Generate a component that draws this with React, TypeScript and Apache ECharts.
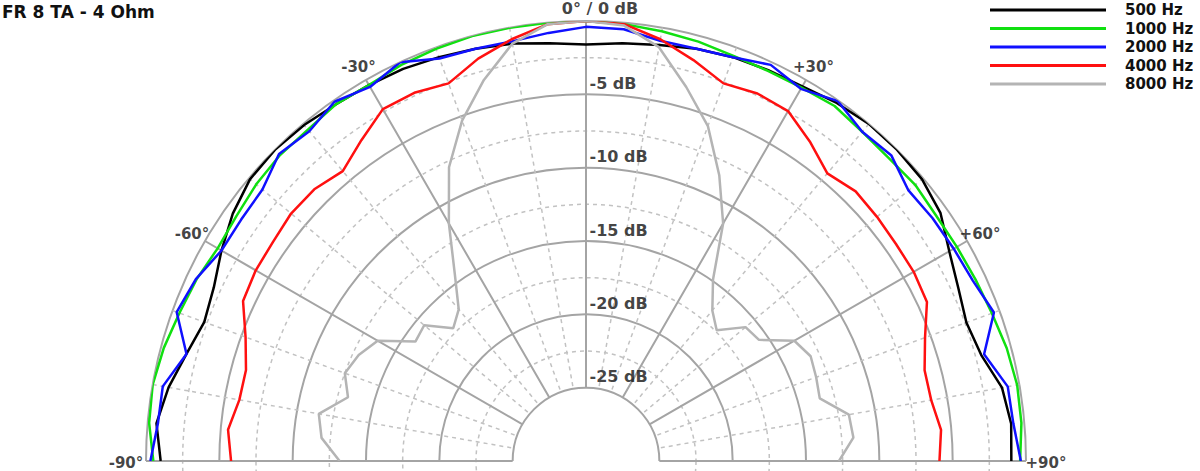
import React, { useEffect, useRef } from 'react';
import * as echarts from 'echarts';

const TITLE = 'FR 8 TA - 4 Ohm';

const ANGLES = [
  -90, -85, -80, -75, -70, -65, -60, -55, -50, -45, -40, -35, -30, -25, -20, -15, -10, -5,
  0, 5, 10, 15, 20, 25, 30, 35, 40, 45, 50, 55, 60, 65, 70, 75, 80, 85, 90,
];

const DB_500 = [
  -1.0, -0.6, -1.1, -1.8, -2.3, -2.0, -1.3, -0.6, -0.1, 0, -0.1, -0.3, -0.4, -0.5, -0.7, -0.9, -1.1, -1.4,
  -1.6, -1.4, -1.2, -0.9, -0.7, -0.6, -0.5, -0.2, 0, 0, -0.1, -0.5, -1.4, -2.0, -2.4, -2.1, -1.2, -0.9, -1.0,
];
const DB_1000 = [
  -0.5, -0.1, 0, -0.2, -0.5, -0.7, -1.0, -0.9, -0.65, -0.5, -0.5, -0.3, -0.4, -0.2, -0.1, 0, 0, 0,
  0, -0.1, -0.25, -0.4, -0.6, -0.65, -0.6, -0.45, -0.7, -0.8, -0.7, -0.85, -0.8, -0.7, -0.55, -0.3, -0.15, -0.2, -0.4,
];
const DB_2000 = [
  -0.3, -0.7, -0.7, -1.8, -0.3, -0.65, -1.3, -1.3, -1.2, -0.4, -0.65, -0.1, -0.55, 0, -0.8, -0.9, -0.95, -0.7,
  -0.4, -0.45, -0.9, -0.9, -0.7, -0.2, -0.7, -0.05, -0.7, -0.55, -1.3, -1.15, -1.05, -0.9, -0.4, -1.9, -0.8, -0.75, -0.35,
];
const DB_4000 = [
  -5.8, -5.5, -6.0, -6.0, -5.3, -4.2, -4.0, -3.95, -3.75, -3.8, -4.2, -3.3, -2.3, -2.3, -2.6, -1.6, -0.8, -0.1,
  0, -0.1, -0.8, -1.7, -2.6, -2.35, -2.45, -3.4, -4.4, -4.0, -4.1, -4.2, -4.2, -4.35, -5.4, -6.1, -6.1, -5.7, -5.9,
];
const DB_8000 = [
  -13.2, -11.9, -11.5, -13.2, -12.5, -12.9, -13.6, -15.8, -15.6, -17.2, -16.5, -14.4, -11.3, -7.9, -5.3, -3.1, -1.1, -0.1,
  0, -0.2, -1.35, -3.6, -5.7, -8.5, -11.3, -14.9, -16.6, -17.4, -15.8, -15.6, -13.6, -13.1, -13.3, -13.5, -11.8, -11.7, -12.75,
];

const SERIES_NAMES = ['500 Hz', '1000 Hz', '2000 Hz', '4000 Hz', '8000 Hz'];
const SERIES_VALUES = [DB_500, DB_1000, DB_2000, DB_4000, DB_8000];
const SERIES_COLORS = ['#000000', '#10e010', '#1010ff', '#ff1010', '#b4b4b4'];

const ANGLE_TICKS = [-90, -60, -30, 0, 30, 60, 90];
const ANGLE_TICK_LABELS = ['-90°', '-60°', '-30°', '0° / 0 dB', '+30°', '+60°', '+90°'];
const DB_TICKS = [-5, -10, -15, -20, -25];
const DB_TICK_LABELS = ['-5 dB', '-10 dB', '-15 dB', '-20 dB', '-25 dB'];

const FONT = '"DejaVu Sans", Verdana, sans-serif';
const TEXT = '#111111';
const GRID_SOLID = '#a4a4a4';
const GRID_DASH = '#c2c2c2';
const CX = 586;
const CY = 461;
const R = 440;
const LABEL_GAP = 15;

function angleLabelOffset(a: number): number[] {
  const rad = (a * Math.PI) / 180;
  const side = Math.abs(a) === 90;
  const gap = side ? 20 : LABEL_GAP;
  return [
    gap * Math.sin(rad) + (a === 0 ? 14 : 0),
    -gap * Math.cos(rad) + (a === 0 ? 2 : 0) + (side ? 2 : 0),
  ];
}

function buildOption() {
  return {
    animation: false,
    backgroundColor: '#ffffff',
    title: {
      text: TITLE,
      left: 2,
      top: 3,
      padding: 0,
      textStyle: { fontFamily: FONT, fontWeight: 'bold', fontSize: 17, color: TEXT },
    },
    legend: {
      orient: 'vertical',
      left: 990,
      top: 1,
      padding: 0,
      itemWidth: 116,
      itemHeight: 3,
      itemGap: 0.5,
      icon: 'rect',
      data: SERIES_NAMES,
      textStyle: {
        fontFamily: FONT,
        fontWeight: 'bold',
        fontSize: 15,
        color: TEXT,
        lineHeight: 18,
        padding: [0, 0, 0, 14],
      },
    },
    polar: { center: [CX, CY], radius: [R / 6, R] },
    angleAxis: {
      type: 'value',
      min: -90,
      max: 90,
      interval: 30,
      startAngle: 180,
      endAngle: 0,
      clockwise: true,
      axisLine: { show: false },
      axisTick: { show: false },
      axisLabel: { show: false },
      splitLine: { show: true, lineStyle: { color: GRID_SOLID, width: 2 } },
      minorTick: { show: false, splitNumber: 3 },
      minorSplitLine: { show: true, lineStyle: { color: GRID_DASH, width: 1.5, type: [4, 4] } },
    },
    radiusAxis: {
      type: 'value',
      min: -25,
      max: 0,
      interval: 5,
      axisLine: { show: false },
      axisTick: { show: false },
      axisLabel: { show: false },
      splitLine: { show: true, lineStyle: { color: GRID_SOLID, width: 2 } },
      minorTick: { show: false, splitNumber: 2 },
      minorSplitLine: { show: true, lineStyle: { color: GRID_DASH, width: 1.5, type: [4, 4] } },
    },
    series: [
      ...SERIES_NAMES.map((name, i) => ({
        name,
        type: 'line',
        coordinateSystem: 'polar',
        showSymbol: false,
        symbol: 'none',
        silent: true,
        color: SERIES_COLORS[i],
        lineStyle: { color: SERIES_COLORS[i], width: 2.5 },
        data: ANGLES.map((a, j) => [SERIES_VALUES[i][j], a]),
        z: 3,
      })),
      {
        name: 'angleLabels',
        type: 'scatter',
        coordinateSystem: 'polar',
        symbolSize: 1,
        silent: true,
        itemStyle: { color: 'rgba(0,0,0,0)' },
        label: {
          show: true,
          position: 'inside',
          fontFamily: FONT,
          fontWeight: 'bold',
          fontSize: 15,
          color: TEXT,
        },
        data: ANGLE_TICKS.map((a, i) => ({
          value: [0, a],
          label: {
            formatter: ANGLE_TICK_LABELS[i],
            fontSize: a === 0 ? 16 : 15,
            offset: angleLabelOffset(a),
          },
        })),
        z: 10,
      },
      {
        name: 'dbLabels',
        type: 'scatter',
        coordinateSystem: 'polar',
        symbolSize: 1,
        silent: true,
        itemStyle: { color: 'rgba(0,0,0,0)' },
        label: {
          show: true,
          position: 'right',
          distance: 3,
          offset: [0, -11],
          fontFamily: FONT,
          fontWeight: 'bold',
          fontSize: 16,
          color: TEXT,
        },
        data: DB_TICKS.map((v, i) => ({ value: [v, 0], label: { formatter: DB_TICK_LABELS[i] } })),
        z: 10,
      },
    ],
  };
}

export default function App() {
  const ref = useRef<HTMLDivElement>(null);
  useEffect(() => {
    if (!ref.current) return;
    const chart = echarts.init(ref.current, null, { renderer: 'svg' });
    chart.setOption(buildOption() as any);
    return () => chart.dispose();
  }, []);
  return (
    <div
      ref={ref}
      style={{ position: 'fixed', left: 0, top: 0, width: 1200, height: 471, background: '#ffffff' }}
    />
  );
}
